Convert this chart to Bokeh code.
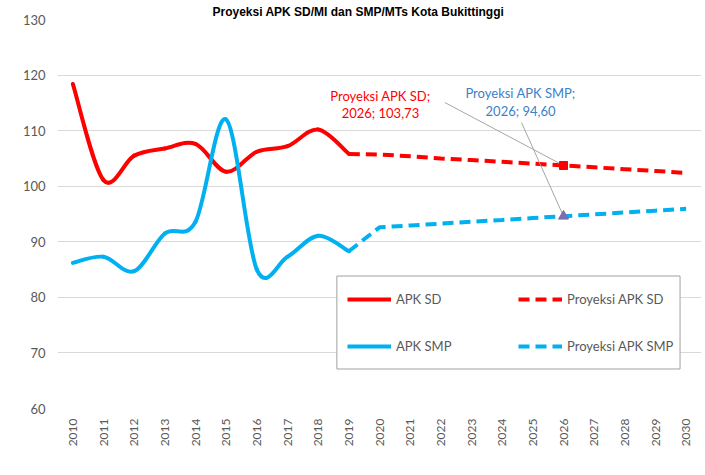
import math
from bokeh.plotting import figure
from bokeh.models import (Range1d, FixedTicker, Legend, LegendItem, ColumnDataSource,
                          BoxAnnotation)
from bokeh.core.properties import value
from bokeh.embed import file_html
from bokeh.resources import INLINE

# ---------------- data ----------------
title_text = "Proyeksi APK SD/MI dan SMP/MTs Kota Bukittinggi"

years_hist = [2010, 2011, 2012, 2013, 2014, 2015, 2016, 2017, 2018, 2019]
apk_sd = [118.4, 101.1, 105.5, 106.8, 107.6, 102.6, 106.2, 107.2, 110.2, 105.8]
apk_smp = [86.2, 87.3, 84.7, 91.5, 93.6, 112.0, 85.0, 87.3, 91.1, 88.3]

years_proj = [2019, 2020, 2021, 2022, 2023, 2024, 2025, 2026, 2027, 2028, 2029, 2030]
proj_sd = [105.8, 105.7, 105.4, 105.0, 104.7, 104.4, 104.06, 103.73, 103.4, 103.07, 102.74, 102.4]
proj_smp = [88.3, 92.6, 92.93, 93.27, 93.6, 93.93, 94.27, 94.60, 94.93, 95.27, 95.6, 95.93]

year_ticks = list(range(2010, 2031))
value_ticks = [60, 70, 80, 90, 100, 110, 120, 130]

label_year = 2026
sd_label_value = proj_sd[years_proj.index(label_year)]
smp_label_value = proj_smp[years_proj.index(label_year)]

# ---------------- style ----------------
RED = "#FF0000"
BLUE = "#00B0F0"
GRID = "#D9D9D9"
TXT = "#595959"
FONT = "Lato"
DASH = "11 6"


def smooth_segments(xs, ys):
    """Bezier segments (Catmull-Rom style, like Excel's smoothed line)."""
    n = len(xs)
    d = dict(x0=[], y0=[], x1=[], y1=[], cx0=[], cy0=[], cx1=[], cy1=[])
    for i in range(n - 1):
        a = i - 1 if i > 0 else i
        b = i + 2 if i + 2 < n else i + 1
        d["x0"].append(xs[i]); d["y0"].append(ys[i])
        d["x1"].append(xs[i + 1]); d["y1"].append(ys[i + 1])
        d["cx0"].append(xs[i] + (xs[i + 1] - xs[a]) / 6.0)
        d["cy0"].append(ys[i] + (ys[i + 1] - ys[a]) / 6.0)
        d["cx1"].append(xs[i + 1] - (xs[b] - xs[i]) / 6.0)
        d["cy1"].append(ys[i + 1] - (ys[b] - ys[i]) / 6.0)
    return ColumnDataSource(d)


p = figure(width=705, height=475, output_backend="svg", toolbar_location=None,
           x_range=Range1d(2009.5, 2030.5), y_range=Range1d(60, 130),
           min_border_left=57, min_border_right=4, min_border_top=19, min_border_bottom=67)
p.outline_line_color = None
p.background_fill_color = "white"
p.border_fill_color = "white"

# title
p.title.text = title_text
p.title.align = "left"
p.title.offset = 155
p.title.standoff = 2
p.title.text_font = "Liberation Sans"
p.title.text_font_style = "bold"
p.title.text_font_size = "12px"
p.title.text_color = "black"

# axes
p.xaxis.ticker = FixedTicker(ticks=year_ticks)
p.yaxis.ticker = FixedTicker(ticks=value_ticks)
for ax in (p.xaxis, p.yaxis):
    ax.axis_line_color = None
    ax.major_tick_line_color = None
    ax.minor_tick_line_color = None
    ax.major_tick_out = 0
    ax.major_tick_in = 0
    ax.major_label_text_color = TXT
    ax.major_label_text_font = FONT
p.yaxis.major_label_text_font_size = "13px"
p.yaxis.major_label_standoff = 12
p.xaxis.major_label_text_font_size = "12px"
p.xaxis.major_label_standoff = 10
p.xaxis.major_label_orientation = math.pi / 2

p.xgrid.grid_line_color = None
p.ygrid.grid_line_color = GRID
p.ygrid.grid_line_width = 1
p.ygrid.ticker = FixedTicker(ticks=value_ticks)

# projections (dashed, straight)
r_psd = p.line(years_proj, proj_sd, line_color=RED, line_width=4, line_dash=DASH)
r_psmp = p.line(years_proj, proj_smp, line_color=BLUE, line_width=4, line_dash=DASH)

# historic (smoothed)
p.bezier(x0="x0", y0="y0", x1="x1", y1="y1", cx0="cx0", cy0="cy0", cx1="cx1", cy1="cy1",
         source=smooth_segments(years_hist, apk_sd), line_color=RED, line_width=4,
         line_cap="round")
p.bezier(x0="x0", y0="y0", x1="x1", y1="y1", cx0="cx0", cy0="cy0", cx1="cx1", cy1="cy1",
         source=smooth_segments(years_hist, apk_smp), line_color=BLUE, line_width=4,
         line_cap="round")

# legend proxies (single point -> invisible on the plot, but drawn in the legend)
r_sd_leg = p.line(years_hist[:1], apk_sd[:1], line_color=RED, line_width=4)
r_smp_leg = p.line(years_hist[:1], apk_smp[:1], line_color=BLUE, line_width=4)

# leader lines
sd_lab_x, sd_lab_y1, sd_lab_y2 = 2020.03, 116.3, 113.25
smp_lab_x, smp_lab_y1, smp_lab_y2 = 2024.6, 116.85, 113.6
p.segment(x0=[2022.13, 2024.63], y0=[115.06, 111.46],
          x1=[label_year, label_year], y1=[sd_label_value, smp_label_value],
          line_color="#A6A6A6", line_width=1)

# markers at the labelled point
p.scatter([label_year], [sd_label_value], marker="square", size=8, fill_color=RED,
          line_color=RED)
p.scatter([label_year], [smp_label_value], marker="triangle", size=10,
          fill_color="#7E6BB0", line_color="#7E6BB0")

# data labels
fmt = lambda v: f"{v:.2f}".replace(".", ",")
p.text(x=[sd_lab_x, sd_lab_x], y=[sd_lab_y1, sd_lab_y2],
       text=["Proyeksi APK SD;", f"{label_year}; {fmt(sd_label_value)}"],
       text_color=RED, text_font=value(FONT), text_font_size="13px",
       text_align="center", text_baseline="middle")
p.text(x=[smp_lab_x, smp_lab_x], y=[smp_lab_y1, smp_lab_y2],
       text=["Proyeksi APK SMP;", f"{label_year}; {fmt(smp_label_value)}"],
       text_color="#3C7FCB", text_font=value(FONT), text_font_size="13px",
       text_align="center", text_baseline="middle")

# legend frame (data-space box behind the two legend columns)
p.add_layout(BoxAnnotation(left=2018.61, right=2029.80, top=83.84, bottom=67.11,
                           fill_color="white", fill_alpha=1,
                           line_color="#A0A0A0", line_width=1, line_alpha=1))


def make_legend(items, loc):
    lg = Legend(items=items, location=loc, orientation="vertical")
    lg.glyph_width = 44
    lg.glyph_height = 30
    lg.label_height = 30
    lg.label_width = 60
    lg.label_standoff = 5
    lg.spacing = 17
    lg.padding = 8
    lg.margin = 0
    lg.label_text_font = FONT
    lg.label_text_font_size = "13px"
    lg.label_text_color = TXT
    lg.border_line_color = None
    lg.background_fill_alpha = 0
    return lg


p.add_layout(make_legend([LegendItem(label="APK SD", renderers=[r_sd_leg]),
                          LegendItem(label="APK SMP", renderers=[r_smp_leg])],
                         (290, 47)), "center")
p.add_layout(make_legend([LegendItem(label="Proyeksi APK SD", renderers=[r_psd]),
                          LegendItem(label="Proyeksi APK SMP", renderers=[r_psmp])],
                         (461, 47)), "center")

open("out.html", "w").write(file_html(p, INLINE))
